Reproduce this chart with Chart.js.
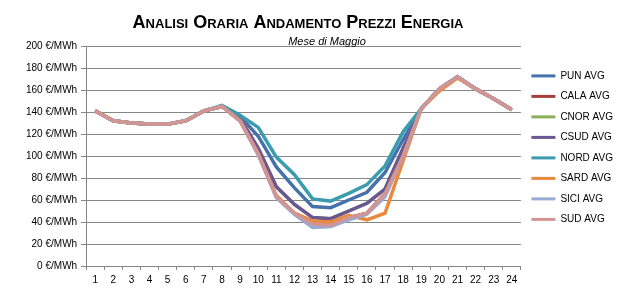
<!DOCTYPE html>
<html>
<head>
<meta charset="utf-8">
<script src="https://cdn.jsdelivr.net/npm/chart.js@4"></script>
<style>
  html, body { margin: 0; padding: 0; background: #fff; }
  #wrap { width: 625px; height: 298px; }
</style>
</head>
<body>
<div id="wrap"><canvas id="myChart" width="625" height="298"></canvas></div>
<script>
let hours = ['1','2','3','4','5','6','7','8','9','10','11','12','13','14','15','16','17','18','19','20','21','22','23','24'];
let labels = ['PUN AVG', 'CALA AVG', 'CNOR AVG', 'CSUD AVG', 'NORD AVG', 'SARD AVG', 'SICI AVG', 'SUD AVG'];
let colorHex = ['#4572ab', '#a5403d', '#8cae57', '#6b5793', '#3b9cb0', '#e8893c', '#96abd6', '#d29593'];

let pun  = [141, 132, 130, 129, 129, 132, 141, 145, 136, 118, 90, 71, 54, 53, 60, 67, 85, 115, 143, 161, 172, 161, 152, 142];
let cala = [141, 132, 130, 129, 129, 132, 141, 145, 132, 102, 63, 48, 38, 37, 44, 48, 66, 100, 143, 161, 172, 161, 152, 142];
let cnor = [141, 132, 130, 129, 129, 132, 141, 145, 134, 107, 72, 56, 44, 43, 50, 57, 70, 107, 143, 161, 172, 161, 152, 142];
let csud = [141, 132, 130, 129, 129, 132, 141, 145, 134, 107, 72, 56, 44, 43, 50, 57, 70, 107, 143, 161, 172, 161, 152, 142];
let nord = [141, 132, 130, 129, 129, 132, 141, 146, 137, 126, 99, 83, 61, 59, 66, 74, 91, 122, 143, 161, 172, 161, 152, 142];
let sard = [141, 132, 130, 129, 129, 132, 141, 145, 132, 102, 64, 48, 41, 40, 46, 42, 48, 96, 143, 159, 171, 161, 152, 142];
let sici = [141, 132, 130, 129, 129, 132, 141, 145, 132, 101, 62, 47, 35, 36, 42, 47, 63, 100, 143, 161, 172, 161, 152, 142];
let sud  = [141, 132, 130, 129, 129, 132, 141, 145, 132, 102, 63, 48, 38, 37, 44, 48, 66, 100, 143, 161, 172, 161, 152, 142];

let series = [pun, cala, cnor, csud, nord, sard, sici, sud];
let fontFam = '"Liberation Sans", Arial, sans-serif';

// title + subtitle drawn at fixed spots, like the Excel chart
let titlePlugin = {
  id: 'titoli',
  afterDraw(chart) {
    let c = chart.ctx;
    c.save();
    c.fillStyle = '#000';
    c.textAlign = 'center';
    c.textBaseline = 'middle';
    c.font = 'small-caps bold 18px ' + fontFam;
    c.fillText('Analisi Oraria Andamento Prezzi Energia', 298, 23);
    c.font = 'italic 11px ' + fontFam;
    c.fillText('Mese di Maggio', 327, 42);
    c.restore();
  }
};

let ctx = document.getElementById('myChart').getContext('2d');
let myChart = new Chart(ctx, {
  type: 'line',
  data: {
    labels: hours,
    datasets: series.map((s, i) => ({
      label: labels[i],
      data: s,
      borderColor: colorHex[i],
      backgroundColor: colorHex[i],
      borderWidth: 3.5,
      pointRadius: 0,
      tension: 0,
      order: series.length - i
    }))
  },
  options: {
    responsive: false,
    animation: false,
    layout: { padding: { left: 22, right: 2, top: 46, bottom: 8 } },
    plugins: {
      title: { display: false },
      tooltip: { enabled: false },
      legend: {
        position: 'right',
        align: 'start',
        // empty title only used as a spacer above the items
        title: { display: true, text: ' ', padding: 0, font: { size: 12, lineHeight: 1.2 } },
        labels: {
          boxWidth: 24,
          boxHeight: 3,
          padding: 10.5,
          color: '#000',
          font: { size: 10, family: fontFam },
          sort: (a, b) => a.datasetIndex - b.datasetIndex,
          generateLabels: (chart) => Chart.defaults.plugins.legend.labels.generateLabels(chart).map(l => {
            l.lineWidth = 0;
            return l;
          })
        }
      }
    },
    scales: {
      x: {
        offset: true,
        grid: { offset: true, drawOnChartArea: false, tickLength: 4, color: '#868686' },
        border: { color: '#868686' },
        ticks: { color: '#000', font: { size: 10, family: fontFam }, padding: 4, maxRotation: 0, autoSkip: false }
      },
      y: {
        min: 0,
        max: 200,
        ticks: {
          stepSize: 20,
          color: '#000',
          padding: 4,
          font: { size: 10, family: fontFam },
          callback: (v) => v + ' €/MWh'
        },
        grid: { color: '#868686', tickLength: 5 },
        border: { color: '#868686' }
      }
    }
  },
  plugins: [titlePlugin]
});
</script>
</body>
</html>
